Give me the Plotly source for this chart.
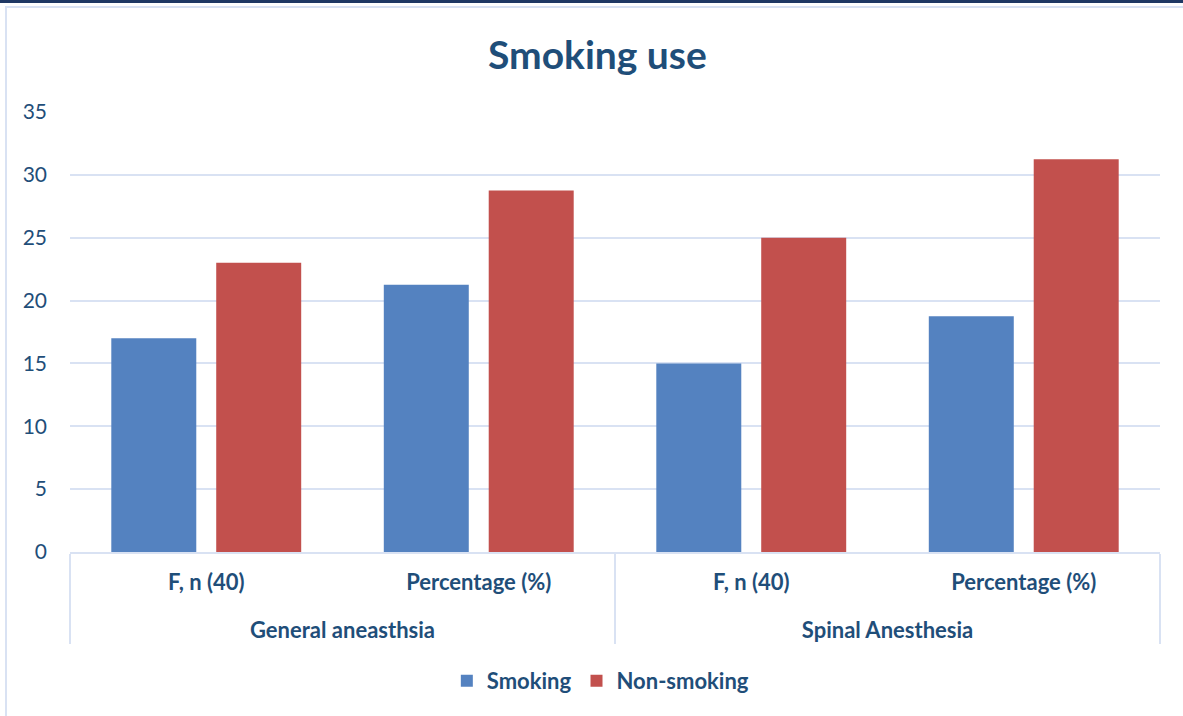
import plotly.graph_objects as go

groups = ["General aneasthsia", "General aneasthsia", "Spinal Anesthesia", "Spinal Anesthesia"]
measures = ["F, n (40)", "Percentage (%)", "F, n (40)", "Percentage (%)"]
smoking = [17, 21.25, 15, 18.75]
non_smoking = [23, 28.75, 25, 31.25]

NAVY = "#1F4E79"
GRID = "#D9E2F3"
FONT = "Lato, 'Open Sans', sans-serif"

# extra blank line under the first-level labels pushes the group labels lower
measure_labels = [m + "<br> " for m in measures]

fig = go.Figure()
fig.add_trace(go.Bar(name="Smoking", x=[groups, measure_labels], y=smoking,
                     marker=dict(color="#5482C0", line=dict(width=0))))
fig.add_trace(go.Bar(name="Non-smoking", x=[groups, measure_labels], y=non_smoking,
                     marker=dict(color="#C2504D", line=dict(width=0))))

fig.update_layout(
    width=1183, height=716,
    margin=dict(l=70, r=23, t=112, b=164),
    paper_bgcolor="white", plot_bgcolor="white",
    barmode="group", bargap=0.23, bargroupgap=0.19,
    title=dict(text="<b>Smoking use</b>", x=0.505, xanchor="center", y=0.923, yanchor="middle",
               font=dict(family=FONT, size=39, color=NAVY)),
    font=dict(family=FONT, color=NAVY),
    legend=dict(orientation="h", x=0.487, xanchor="center", y=-0.293, yanchor="middle",
                font=dict(family=FONT, size=22, color=NAVY, weight="bold"),
                itemwidth=30, traceorder="normal"),
    showlegend=True,
)
fig.update_yaxes(range=[0, 35], dtick=5, showgrid=True, gridcolor=GRID, gridwidth=2,
                 zeroline=False, showline=False, ticks="",
                 tickfont=dict(family=FONT, size=21, color=NAVY), ticklabelstandoff=22)
fig.update_xaxes(type="multicategory", showline=True, linecolor=GRID, linewidth=2,
                 showdividers=True, dividercolor=GRID, dividerwidth=2,
                 ticklabelstandoff=10,
                 tickfont=dict(family=FONT, size=22, color=NAVY, weight="bold"))

# outer chart border and top navy strip
fig.add_shape(type="rect", xref="paper", yref="paper", x0=-0.0587, x1=1.03, y0=-0.4, y1=1.2386,
              line=dict(color=GRID, width=2), fillcolor="rgba(0,0,0,0)", layer="below")
fig.add_shape(type="rect", xref="paper", yref="paper", x0=-0.07, x1=1.03, y0=1.2477, y1=1.26,
              line=dict(width=0), fillcolor="#1F3864")

fig.write_html("out.html")
